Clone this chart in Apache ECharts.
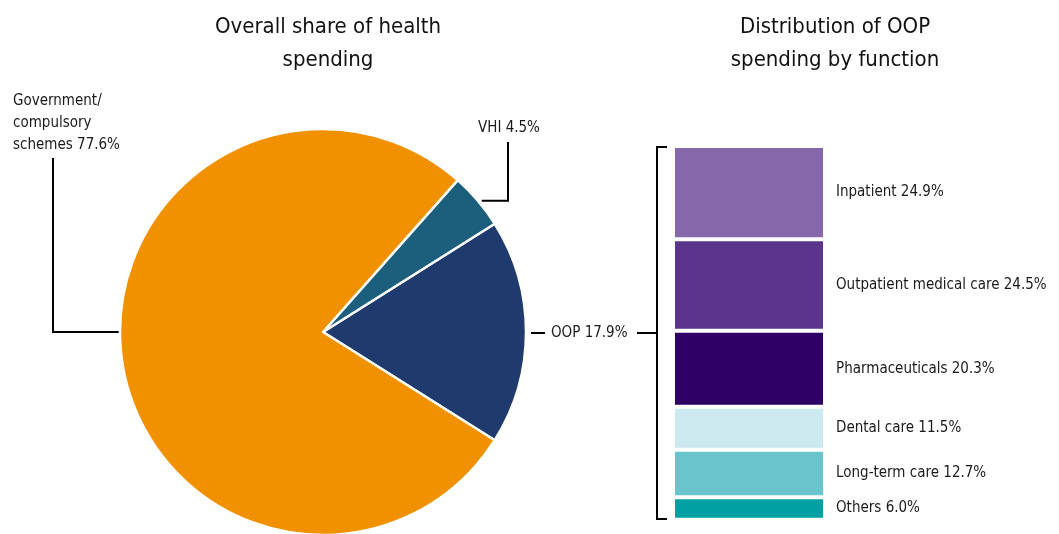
<!DOCTYPE html>
<html><head><meta charset="utf-8">
<script src="https://cdn.jsdelivr.net/npm/echarts@6/dist/echarts.min.js"></script>
<style>html,body{margin:0;padding:0;background:#fff}#c{width:1059px;height:534px}</style>
</head><body><div id="c"></div>
<script>
// Overall share of health spending
const pieNames = ['OOP', 'VHI', 'Government/\ncompulsory\nschemes'];
const pieValues = [17.9, 4.5, 77.6];
const pieColors = ['#1F3B6D', '#1C5F7C', '#F29100'];
// Distribution of OOP spending by function
const funcNames = ['Inpatient', 'Outpatient medical care', 'Pharmaceuticals', 'Dental care', 'Long-term care', 'Others'];
const funcValues = [24.9, 24.5, 20.3, 11.5, 12.7, 6.0];
const funcColors = ['#8667AA', '#5B348B', '#2E0066', '#CDE9F0', '#6AC4CB', '#00A0A3'];

const FONT = '"Liberation Sans Narrow", "DejaVu Sans Condensed", "Arial Narrow", sans-serif';
const CX = 323, CY = 332, R = 203;
const chart = echarts.init(document.getElementById('c'), null, {renderer: 'canvas'});

const oopStart = pieValues[0] / 100 * 180; // start angle so OOP is centred on the right

const barSeries = funcNames.map((n, i) => ({
  name: n, type: 'bar', stack: 'oop', barWidth: '100%',
  data: [funcValues[i]],
  itemStyle: {color: funcColors[i], borderColor: '#fff', borderWidth: 2},
  label: {show: true, position: 'right', distance: 11, color: '#1a1a1a', fontFamily: FONT, fontSize: 15,
    formatter: () => n + ' ' + funcValues[i].toFixed(1) + '%'}
}));

chart.setOption({
  animation: false,
  textStyle: {fontFamily: FONT},
  title: [
    {text: 'Overall share of health\nspending', left: CX, top: 6, textAlign: 'center',
     textStyle: {fontFamily: FONT, fontSize: 22, fontWeight: 'normal', color: '#111', lineHeight: 33}},
    {text: 'Distribution of OOP\nspending by function', left: 830, top: 6, textAlign: 'center',
     textStyle: {fontFamily: FONT, fontSize: 22, fontWeight: 'normal', color: '#111', lineHeight: 33}}
  ],
  grid: {left: 673, right: 234, top: 146, bottom: 14},
  xAxis: {type: 'category', data: ['OOP'], show: false},
  yAxis: {type: 'value', min: 0, max: 100, inverse: true, show: false},
  series: [{
    type: 'pie', center: [CX, CY], radius: R, clockwise: false, startAngle: -oopStart,
    data: pieNames.map((n, i) => ({name: n, value: pieValues[i], itemStyle: {color: pieColors[i]}})),
    itemStyle: {borderColor: '#fff', borderWidth: 2.5},
    label: {show: true, color: '#1a1a1a', fontFamily: FONT, fontSize: 15, lineHeight: 22,
      overflow: 'none', width: 200,
      formatter: p => p.name + ' ' + p.value.toFixed(1) + '%'},
    labelLine: {show: true, lineStyle: {color: '#000', width: 2}},
    labelLayout: function (p) {
      const i = p.dataIndex;
      let acc = -oopStart;
      for (let k = 0; k < i; k++) acc += pieValues[k] / 100 * 360;
      const mid = (acc + pieValues[i] / 100 * 180) * Math.PI / 180;
      const ex = CX + R * Math.cos(mid), ey = CY - R * Math.sin(mid);
      if (i === 0) {
        return {x: 551, y: ey + 1, align: 'left', verticalAlign: 'middle', width: 200,
          labelLinePoints: [[ex + 5, ey + 1], [ex + 12, ey + 1], [ex + 19, ey + 1]]};
      } else if (i === 1) {
        return {x: 478, y: 128, align: 'left', verticalAlign: 'middle', width: 200,
          labelLinePoints: [[ex + 4, ey], [508, ey], [508, 142]]};
      } else {
        return {x: 13, y: 123, align: 'left', verticalAlign: 'middle', width: 200,
          labelLinePoints: [[CX - R, CY], [53, CY], [53, 158]]};
      }
    }
  }].concat(barSeries),
  graphic: [{
    type: 'polyline', silent: true,
    shape: {points: [[667, 147], [657, 147], [657, 519], [667, 519]]},
    style: {stroke: '#000', lineWidth: 2, fill: null}
  }, {
    type: 'line', silent: true,
    shape: {x1: 637, y1: 333, x2: 657, y2: 333},
    style: {stroke: '#000', lineWidth: 2}
  }]
});
</script></body></html>
